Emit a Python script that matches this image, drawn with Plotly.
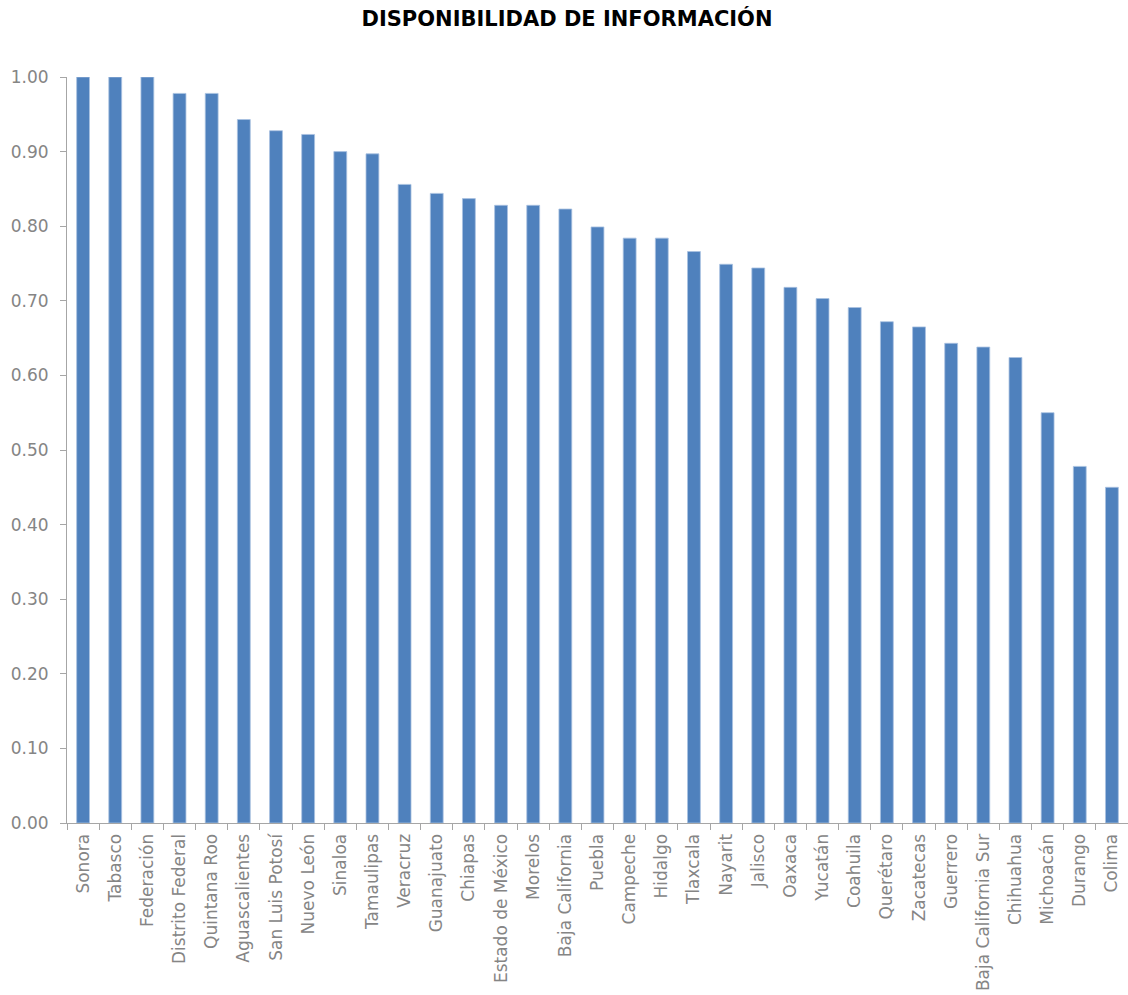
import plotly.graph_objects as go

# Índice de disponibilidad de información por entidad
estados = [
    "Sonora", "Tabasco", "Federación", "Distrito Federal", "Quintana Roo",
    "Aguascalientes", "San Luis Potosí", "Nuevo León", "Sinaloa", "Tamaulipas",
    "Veracruz", "Guanajuato", "Chiapas", "Estado de México", "Morelos",
    "Baja California", "Puebla", "Campeche", "Hidalgo", "Tlaxcala",
    "Nayarit", "Jalisco", "Oaxaca", "Yucatán", "Coahuila",
    "Querétaro", "Zacatecas", "Guerrero", "Baja California Sur", "Chihuahua",
    "Michoacán", "Durango", "Colima",
]
disponibilidad = [
    1.00, 1.00, 1.00, 0.978, 0.978,
    0.943, 0.928, 0.923, 0.900, 0.897,
    0.856, 0.844, 0.837, 0.828, 0.828,
    0.823, 0.799, 0.784, 0.784, 0.766,
    0.749, 0.744, 0.718, 0.703, 0.691,
    0.672, 0.665, 0.643, 0.638, 0.624,
    0.550, 0.478, 0.450,
]
y_ticks = [i / 10 for i in range(11)]
y_tick_labels = [f"{v:.2f}" for v in y_ticks]

AXIS_GRAY = "#A6A6A6"
TEXT_GRAY = "#858585"
LABEL_FONT = dict(family="DejaVu Sans, sans-serif", size=17, color=TEXT_GRAY)

fig = go.Figure(
    go.Bar(
        x=estados,
        y=disponibilidad,
        marker=dict(color="#4F81BD", line=dict(color="#A9C1E1", width=0.8)),
        hoverinfo="x+y",
    )
)

fig.update_layout(
    width=1128,
    height=995,
    margin=dict(l=67, r=0, t=77, b=172),
    paper_bgcolor="white",
    plot_bgcolor="white",
    bargap=0.6,
    showlegend=False,
    title=dict(
        text="<b>DISPONIBILIDAD DE INFORMACIÓN</b>",
        font=dict(family="DejaVu Sans, sans-serif", size=21, color="black"),
        x=567 / 1128,
        xanchor="center",
        xref="container",
        yref="container",
        y=1 - 19 / 995,
        yanchor="middle",
    ),
)

fig.update_xaxes(
    type="category",
    tickangle=-90,
    tickfont=LABEL_FONT,
    showline=True,
    linecolor=AXIS_GRAY,
    linewidth=1,
    ticks="outside",
    tickson="boundaries",
    ticklen=6,
    tickcolor=AXIS_GRAY,
    ticklabelstandoff=3,
    showgrid=False,
    zeroline=False,
)

fig.update_yaxes(
    range=[0, 1.0],
    tickvals=y_ticks,
    ticktext=y_tick_labels,
    tickfont=LABEL_FONT,
    showline=True,
    linecolor=AXIS_GRAY,
    linewidth=1,
    ticks="outside",
    ticklen=6,
    tickcolor=AXIS_GRAY,
    ticklabelstandoff=8,
    showgrid=False,
    zeroline=False,
)

fig.write_html("out.html")
